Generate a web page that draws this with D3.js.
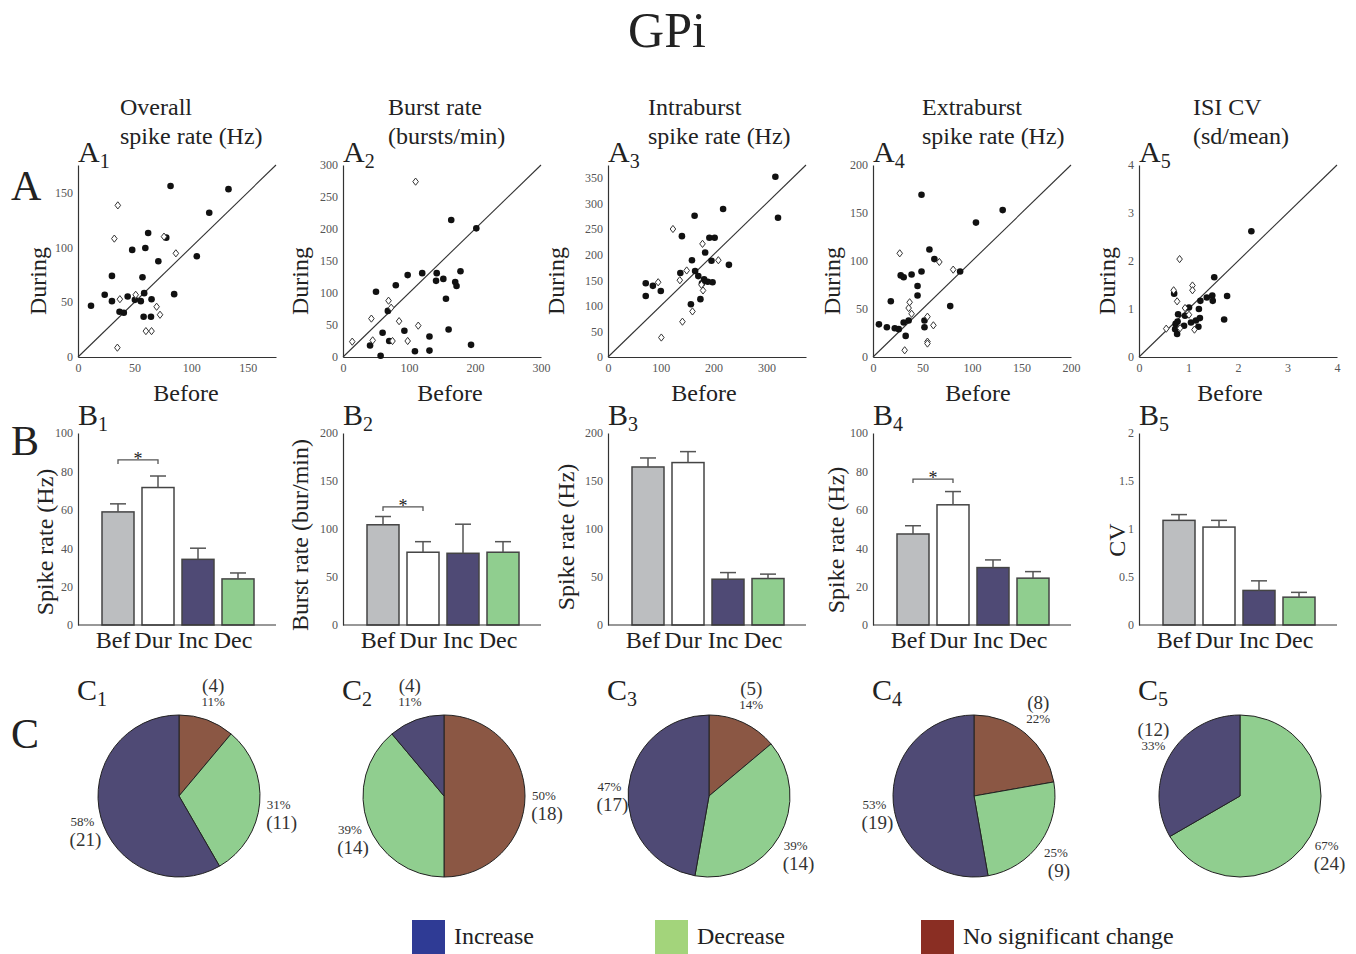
<!DOCTYPE html>
<html>
<head>
<meta charset="utf-8">
<script src="https://cdn.jsdelivr.net/npm/d3@7"></script>
<style>
  body { margin: 0; background: #fff; }
  svg { font-family: "Liberation Serif", "Times New Roman", serif; }
</style>
</head>
<body>
<svg id="fig" width="1356" height="954"></svg>
<script>
// --- DATA ---
const panelTitles = [
  ["Overall", "spike rate (Hz)"],
  ["Burst rate", "(bursts/min)"],
  ["Intraburst", "spike rate (Hz)"],
  ["Extraburst", "spike rate (Hz)"],
  ["ISI CV", "(sd/mean)"]
];

// A: before vs during, filled = significant, open diamond = n.s.
const a1Filled = [[11.5,46.7],[81.8,155.8],[133,153],[116,131.5],[62,113],[78,108.8],[47.9,97.6],[59.5,99.4],[105,91.8],[71,87.3],[30,73.9],[57,72.7],[23.6,56.7],[30,50.9],[43.9,55.2],[58.5,58.2],[50.3,52.1],[55.5,50.9],[65,52.7],[85,57.3],[36.7,41.2],[40.5,40.3],[58,36.7],[64.5,36.7]];
const a1Open = [[35.2,138.2],[32.1,107.9],[76,109.7],[86.5,94.5],[37,52.7],[51,56.7],[69.5,45.8],[72.5,38.5],[60,23.6],[65,23.6],[34.8,8.5]];
const a2Filled = [[57,2],[50,102],[41,18],[60,38],[68,72],[70,25],[80,112],[98,128],[93,41],[109,9],[120,131],[131,32],[131,10],[142,131],[141,119],[152,122],[156,91],[160,43],[164,214],[170,117],[172,111],[178,134],[194,19],[202,201]];
const a2Open = [[110,274],[14,24],[43,60],[45,26],[69,88],[73,77],[75,25],[85,56],[98,25],[114,49]];
const a3Filled = [[71.5,144],[71.5,119],[85,139],[100,129],[137,164],[140,236],[164,276],[159,189],[165,168],[171,158],[157,103],[175,113],[184,204],[178,144],[182,152],[192,233],[202,233],[196,188],[189,147],[198,146],[218,289],[229,180],[317,352],[322,272]];
const a3Open = [[123,250],[136,150],[149,169],[95,146],[179,221],[177,141],[180,130],[209,189],[141,69],[160,89],[101,38]];
const a4Filled = [[6,34],[14,31],[18,58],[22,30],[26,29],[28,85],[31,83],[31,36],[33,22],[36,38],[39,86],[45,74],[45,64],[49,169],[49,89],[57,112],[62,102],[52,38],[52,31],[78,53],[88,89],[104,140],[131,153]];
const a4Open = [[27,108],[37,57],[36,51],[39,45],[55,42],[61,33],[55,16],[55,14],[32,7],[67,99],[81,91]];
const a5Filled = [[2.27,2.62],[1.52,1.66],[0.71,1.32],[1.78,1.27],[1.37,1.24],[1.48,1.28],[1.49,1.17],[1.24,1.17],[0.79,0.89],[1.01,1.03],[1.21,1.0],[0.93,0.86],[0.74,0.69],[0.73,0.58],[0.77,0.48],[0.91,0.65],[1.05,0.72],[1.15,0.76],[1.23,0.81],[1.2,0.63],[1.72,0.78],[0.78,0.74]];
const a5Open = [[0.82,2.04],[0.7,1.39],[0.77,1.16],[1.08,1.49],[1.08,1.39],[0.93,1.02],[1.01,0.88],[0.55,0.59],[0.83,0.6],[1.12,0.57]];

const scatterMax = [175, 300, 375, 200, 4];
const scatterXTicks = [[0,50,100,150],[0,100,200,300],[0,100,200,300],[0,50,100,150,200],[0,1,2,3,4]];
const scatterYTicks = [[0,50,100,150],[0,50,100,150,200,250,300],[0,50,100,150,200,250,300,350],[0,50,100,150,200],[0,1,2,3,4]];

// B: mean +/- sem
const barCats = ["Bef", "Dur", "Inc", "Dec"];
const barMeans = [[58.9,71.6,34.2,24.0],[104.4,75.8,74.7,75.8],[164.6,169.2,47.7,48.4],[47.4,62.6,29.9,24.4],[1.09,1.02,0.36,0.29]];
const barSems = [[4.2,6.0,5.8,3.1],[8.6,11.0,30.3,11.0],[9.4,11.4,6.9,4.6],[4.3,6.9,4.0,3.4],[0.06,0.07,0.10,0.05]];
const barYMax = [100, 200, 200, 100, 2];
const barYTicks = [[0,20,40,60,80,100],[0,50,100,150,200],[0,50,100,150,200],[0,20,40,60,80,100],[0,0.5,1,1.5,2]];
const barYLabels = ["Spike rate (Hz)", "Burst rate (bur/min)", "Spike rate (Hz)", "Spike rate (Hz)", "CV"];
const sigLevel = [86, 123, null, 76, null];   // Bef vs Dur bracket

// C: neuron counts per response type
const pieNoChange = [4, 18, 5, 8, 0];
const pieDecrease = [11, 14, 14, 9, 24];
const pieIncrease = [21, 4, 17, 19, 12];

const legendLabels = ["Increase", "Decrease", "No significant change"];

// --- LAYOUT / STYLE ---
const colX = [78, 343, 608, 873, 1139];
const plotW = 198;
const sTop = 165, sBot = 357;
const bTop = 433, bBot = 625;
const pieY = 796, pieR = 81;
const titleDx = [42, 45, 40, 49, 54];
const duringDx = [-40, -43, -52, -41, -32];
const beforeDx = [108, 107, 96, 105, 91];
const barLabDx = [-33, -43, -42, -37, -22];
const barLabY = [542, 535, 537, 540, 540];

const col = {
  bef: "#bcbec0", dur: "#ffffff", inc: "#4f4a75", dec: "#90ce8f", nochg: "#8b5744",
  legInc: "#2f3b95", legDec: "#a3d47b", legNo: "#8a2e23", ink: "#222"
};
const barFill = [col.bef, col.dur, col.inc, col.dec];

const svg = d3.select("#fig");
svg.append("rect").attr("width", 1356).attr("height", 954).attr("fill", "#fff");

// title
svg.append("text").attr("x", 667).attr("y", 47).attr("text-anchor", "middle")
  .attr("font-size", 50).attr("fill", col.ink).text("GPi");

// row letters
[["A", 200], ["B", 455], ["C", 748]].forEach(([t, y]) => {
  svg.append("text").attr("x", 11).attr("y", y).attr("font-size", 42).attr("fill", col.ink).text(t);
});

function panelLabel(x, y, letter, sub) {
  const t = svg.append("text").attr("x", x).attr("y", y).attr("font-size", 30).attr("fill", col.ink);
  t.append("tspan").text(letter);
  t.append("tspan").attr("dy", 6).attr("font-size", 20).text(sub);
}

function styleAxis(g, fs) {
  g.attr("font-family", null);
  g.select(".domain").attr("stroke", "#333").attr("stroke-width", 1.2);
  g.selectAll(".tick text").attr("font-size", fs).attr("fill", "#555");
}

// diamond marker
const diamond = {
  draw(ctx) {
    const w = 2.8, h = 3.6;
    ctx.moveTo(0, -h); ctx.lineTo(w, 0); ctx.lineTo(0, h); ctx.lineTo(-w, 0); ctx.closePath();
  }
};
const plain = d => String(d);

// --- ROW A: scatter plots ---
const scatFilled = [a1Filled, a2Filled, a3Filled, a4Filled, a5Filled];
const scatOpen = [a1Open, a2Open, a3Open, a4Open, a5Open];

panelTitles.forEach((tl, i) => {
  const ox = colX[i];
  tl.forEach((line, j) => {
    svg.append("text").attr("x", ox + titleDx[i]).attr("y", 115 + j * 29)
      .attr("font-size", 24).attr("fill", col.ink).text(line);
  });
  panelLabel(ox, 162, "A", i + 1);

  const x = d3.scaleLinear().domain([0, scatterMax[i]]).range([ox, ox + plotW]);
  const y = d3.scaleLinear().domain([0, scatterMax[i]]).range([sBot, sTop]);

  svg.append("g").attr("transform", `translate(0,${sBot})`)
    .call(d3.axisBottom(x).tickValues(scatterXTicks[i]).tickFormat(plain).tickSize(0).tickPadding(6))
    .call(g => styleAxis(g, 12));
  svg.append("g").attr("transform", `translate(${ox},0)`)
    .call(d3.axisLeft(y).tickValues(scatterYTicks[i]).tickFormat(plain).tickSize(0).tickPadding(5))
    .call(g => styleAxis(g, 12));

  svg.append("line")
    .attr("x1", x(0)).attr("y1", y(0)).attr("x2", x(scatterMax[i])).attr("y2", y(scatterMax[i]))
    .attr("stroke", "#333").attr("stroke-width", 1.1);

  svg.append("g").selectAll("circle").data(scatFilled[i]).join("circle")
    .attr("cx", d => x(d[0])).attr("cy", d => y(d[1])).attr("r", 3.3).attr("fill", "#111");
  svg.append("g").selectAll("path").data(scatOpen[i]).join("path")
    .attr("transform", d => `translate(${x(d[0])},${y(d[1])})`)
    .attr("d", d3.symbol(diamond)())
    .attr("fill", "#fff").attr("stroke", "#333").attr("stroke-width", 1);

  svg.append("text").attr("transform", `translate(${ox + duringDx[i]},281) rotate(-90)`)
    .attr("text-anchor", "middle").attr("dominant-baseline", "central")
    .attr("font-size", 24).attr("fill", col.ink).text("During");
  svg.append("text").attr("x", ox + beforeDx[i]).attr("y", 401).attr("text-anchor", "middle")
    .attr("font-size", 24).attr("fill", col.ink).text("Before");
});

// --- ROW B: bar charts ---
barMeans.forEach((means, i) => {
  const ox = colX[i];
  panelLabel(ox, 425, "B", i + 1);

  const x = d3.scaleBand().domain(barCats).range([ox + 20, ox + 180]).paddingInner(0.2).paddingOuter(0.1);
  const y = d3.scaleLinear().domain([0, barYMax[i]]).range([bBot, bTop]);

  const rows = barCats.map((c, k) => ({ cat: c, mean: means[k], sem: barSems[i][k], fill: barFill[k] }));

  svg.append("g").selectAll("rect").data(rows).join("rect")
    .attr("x", d => x(d.cat)).attr("width", x.bandwidth())
    .attr("y", d => y(d.mean)).attr("height", d => bBot - y(d.mean))
    .attr("fill", d => d.fill).attr("stroke", "#444").attr("stroke-width", 1.5);

  const eb = svg.append("g").attr("stroke", "#555").attr("stroke-width", 1.5);
  eb.selectAll("line.v").data(rows).join("line").attr("class", "v")
    .attr("x1", d => x(d.cat) + x.bandwidth() / 2).attr("x2", d => x(d.cat) + x.bandwidth() / 2)
    .attr("y1", d => y(d.mean)).attr("y2", d => y(d.mean + d.sem));
  eb.selectAll("line.c").data(rows).join("line").attr("class", "c")
    .attr("x1", d => x(d.cat) + x.bandwidth() / 2 - 8).attr("x2", d => x(d.cat) + x.bandwidth() / 2 + 8)
    .attr("y1", d => y(d.mean + d.sem)).attr("y2", d => y(d.mean + d.sem));

  // axes
  svg.append("g").attr("transform", `translate(${ox},0)`)
    .call(d3.axisLeft(y).tickValues(barYTicks[i]).tickFormat(plain).tickSize(0).tickPadding(5))
    .call(g => styleAxis(g, 12));
  svg.append("g").attr("transform", `translate(0,${bBot})`)
    .call(d3.axisBottom(x).tickSize(0).tickPadding(6))
    .call(g => {
      g.attr("font-family", null);
      g.select(".domain").remove();
      g.selectAll(".tick text").attr("dx", -5).attr("font-size", 24).attr("fill", col.ink);
    });
  svg.append("line").attr("x1", ox).attr("x2", ox + plotW).attr("y1", bBot).attr("y2", bBot)
    .attr("stroke", "#333").attr("stroke-width", 1.2);

  // significance bracket
  if (sigLevel[i] !== null) {
    const x1 = x("Bef") + x.bandwidth() / 2, x2 = x("Dur") + x.bandwidth() / 2, yy = y(sigLevel[i]);
    svg.append("path").attr("d", `M${x1},${yy + 4}V${yy}H${x2}V${yy + 4}`)
      .attr("fill", "none").attr("stroke", "#555").attr("stroke-width", 1.3);
    svg.append("text").attr("x", (x1 + x2) / 2).attr("y", yy + 5).attr("text-anchor", "middle")
      .attr("font-size", 18).attr("fill", col.ink).text("*");
  }

  svg.append("text").attr("transform", `translate(${ox + barLabDx[i]},${barLabY[i]}) rotate(-90)`)
    .attr("text-anchor", "middle").attr("dominant-baseline", "central")
    .attr("font-size", 24).attr("fill", col.ink).text(barYLabels[i]);
});

// --- ROW C: pies ---
const pie = d3.pie().sort(null).value(d => d.n);
const arc = d3.arc().innerRadius(0).outerRadius(pieR);

pieIncrease.forEach((_, i) => {
  const ox = colX[i];
  panelLabel(ox - 1, 700, "C", i + 1);
  const cx = ox + 101;
  const slices = [
    { n: pieNoChange[i], fill: col.nochg },
    { n: pieDecrease[i], fill: col.dec },
    { n: pieIncrease[i], fill: col.inc }
  ];
  const total = d3.sum(slices, d => d.n);
  const g = svg.append("g").attr("transform", `translate(${cx},${pieY})`);
  const arcs = pie(slices).filter(d => d.data.n > 0);
  g.selectAll("path").data(arcs).join("path")
    .attr("d", arc).attr("fill", d => d.data.fill).attr("stroke", "#222").attr("stroke-width", 1);

  arcs.forEach(d => {
    const a = (d.startAngle + d.endAngle) / 2;
    const lx = Math.sin(a) * 100, ly = -Math.cos(a) * 100;
    const pct = Math.round(d.data.n / total * 100) + "%";
    const up = Math.cos(a) >= 0.45;
    g.append("text").attr("x", lx).attr("y", ly + 4).attr("text-anchor", "middle")
      .attr("font-size", 13).attr("fill", "#333").text(pct);
    g.append("text").attr("x", lx + (up ? 0 : 3)).attr("y", up ? ly - 10 : ly + 24).attr("text-anchor", "middle")
      .attr("font-size", 19).attr("fill", "#333").text(`(${d.data.n})`);
  });
});

// --- legend ---
const legCols = [col.legInc, col.legDec, col.legNo];
const legX = [412, 655, 921];
legendLabels.forEach((t, k) => {
  svg.append("rect").attr("x", legX[k]).attr("y", 920).attr("width", 33).attr("height", 34).attr("fill", legCols[k]);
  svg.append("text").attr("x", legX[k] + 42).attr("y", 944).attr("font-size", 24).attr("fill", col.ink).text(t);
});
</script>
</body>
</html>
